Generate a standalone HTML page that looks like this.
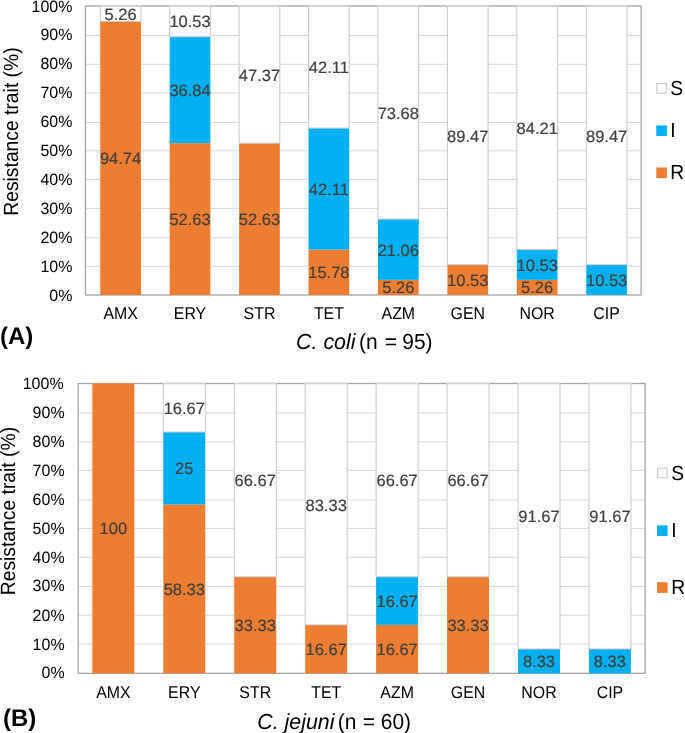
<!DOCTYPE html>
<html><head><meta charset="utf-8"><style>
html,body{margin:0;padding:0;background:#fff;}
body{width:685px;height:733px;overflow:hidden;}
#wrap{will-change:transform;width:685px;height:733px;filter:blur(0.35px);}
svg{display:block;font-family:"Liberation Sans",sans-serif;text-rendering:geometricPrecision;}
</style></head><body>
<div id="wrap"><svg width="685" height="733" viewBox="0 0 685 733">
<rect width="685" height="733" fill="#fff"/>
<line x1="85.50" y1="266.30" x2="641.10" y2="266.30" stroke="#d9d9d9" stroke-width="1"/>
<line x1="85.50" y1="237.80" x2="641.10" y2="237.80" stroke="#d9d9d9" stroke-width="1"/>
<line x1="85.50" y1="208.40" x2="641.10" y2="208.40" stroke="#d9d9d9" stroke-width="1"/>
<line x1="85.50" y1="179.50" x2="641.10" y2="179.50" stroke="#d9d9d9" stroke-width="1"/>
<line x1="85.50" y1="150.85" x2="641.10" y2="150.85" stroke="#d9d9d9" stroke-width="1"/>
<line x1="85.50" y1="122.50" x2="641.10" y2="122.50" stroke="#d9d9d9" stroke-width="1"/>
<line x1="85.50" y1="93.00" x2="641.10" y2="93.00" stroke="#d9d9d9" stroke-width="1"/>
<line x1="85.50" y1="64.30" x2="641.10" y2="64.30" stroke="#d9d9d9" stroke-width="1"/>
<line x1="85.50" y1="35.50" x2="641.10" y2="35.50" stroke="#d9d9d9" stroke-width="1"/>
<rect x="85.50" y="6.00" width="555.60" height="289.00" fill="none" stroke="#a6a6a6" stroke-width="1.3"/>
<rect x="100.25" y="21.36" width="40.70" height="273.64" fill="#ed7d31"/>
<rect x="100.25" y="6.00" width="40.70" height="15.36" fill="#ffffff" stroke="#c8c8c8" stroke-width="1"/>
<line x1="99.75" y1="6.00" x2="141.45" y2="6.00" stroke="#d4d4d4" stroke-width="1.6"/>
<rect x="169.68" y="143.15" width="40.70" height="151.85" fill="#ed7d31"/>
<rect x="169.68" y="36.73" width="40.70" height="106.42" fill="#00b0f0"/>
<rect x="169.68" y="6.00" width="40.70" height="30.73" fill="#ffffff" stroke="#c8c8c8" stroke-width="1"/>
<line x1="169.18" y1="6.00" x2="210.88" y2="6.00" stroke="#d4d4d4" stroke-width="1.6"/>
<rect x="239.11" y="143.15" width="40.70" height="151.85" fill="#ed7d31"/>
<rect x="239.11" y="6.00" width="40.70" height="137.15" fill="#ffffff" stroke="#c8c8c8" stroke-width="1"/>
<line x1="238.61" y1="6.00" x2="280.31" y2="6.00" stroke="#d4d4d4" stroke-width="1.6"/>
<rect x="308.54" y="249.61" width="40.70" height="45.39" fill="#ed7d31"/>
<rect x="308.54" y="128.09" width="40.70" height="121.52" fill="#00b0f0"/>
<rect x="308.54" y="6.00" width="40.70" height="122.09" fill="#ffffff" stroke="#c8c8c8" stroke-width="1"/>
<line x1="308.04" y1="6.00" x2="349.74" y2="6.00" stroke="#d4d4d4" stroke-width="1.6"/>
<rect x="377.97" y="279.85" width="40.70" height="15.15" fill="#ed7d31"/>
<rect x="377.97" y="219.08" width="40.70" height="60.77" fill="#00b0f0"/>
<rect x="377.97" y="6.00" width="40.70" height="213.08" fill="#ffffff" stroke="#c8c8c8" stroke-width="1"/>
<line x1="377.47" y1="6.00" x2="419.17" y2="6.00" stroke="#d4d4d4" stroke-width="1.6"/>
<rect x="447.40" y="264.68" width="40.70" height="30.32" fill="#ed7d31"/>
<rect x="447.40" y="6.00" width="40.70" height="258.68" fill="#ffffff" stroke="#c8c8c8" stroke-width="1"/>
<line x1="446.90" y1="6.00" x2="488.60" y2="6.00" stroke="#d4d4d4" stroke-width="1.6"/>
<rect x="516.83" y="279.85" width="40.70" height="15.15" fill="#ed7d31"/>
<rect x="516.83" y="249.58" width="40.70" height="30.27" fill="#00b0f0"/>
<rect x="516.83" y="6.00" width="40.70" height="243.58" fill="#ffffff" stroke="#c8c8c8" stroke-width="1"/>
<line x1="516.33" y1="6.00" x2="558.03" y2="6.00" stroke="#d4d4d4" stroke-width="1.6"/>
<rect x="586.26" y="264.68" width="40.70" height="30.32" fill="#00b0f0"/>
<rect x="586.26" y="6.00" width="40.70" height="258.68" fill="#ffffff" stroke="#c8c8c8" stroke-width="1"/>
<line x1="585.76" y1="6.00" x2="627.46" y2="6.00" stroke="#d4d4d4" stroke-width="1.6"/>
<text x="120.60" y="164.30" text-anchor="middle" font-size="16.5" fill="#404040" stroke="#404040" stroke-width="0.2">94.74</text>
<text x="120.60" y="19.74" text-anchor="middle" font-size="16.5" fill="#404040" stroke="#404040" stroke-width="0.2">5.26</text>
<text x="190.03" y="225.15" text-anchor="middle" font-size="16.5" fill="#404040" stroke="#404040" stroke-width="0.2">52.63</text>
<text x="190.03" y="95.88" text-anchor="middle" font-size="16.5" fill="#404040" stroke="#404040" stroke-width="0.2">36.84</text>
<text x="190.03" y="27.43" text-anchor="middle" font-size="16.5" fill="#404040" stroke="#404040" stroke-width="0.2">10.53</text>
<text x="259.46" y="225.15" text-anchor="middle" font-size="16.5" fill="#404040" stroke="#404040" stroke-width="0.2">52.63</text>
<text x="259.46" y="80.72" text-anchor="middle" font-size="16.5" fill="#404040" stroke="#404040" stroke-width="0.2">47.37</text>
<text x="328.89" y="278.33" text-anchor="middle" font-size="16.5" fill="#404040" stroke="#404040" stroke-width="0.2">15.78</text>
<text x="328.89" y="194.65" text-anchor="middle" font-size="16.5" fill="#404040" stroke="#404040" stroke-width="0.2">42.11</text>
<text x="328.89" y="73.14" text-anchor="middle" font-size="16.5" fill="#404040" stroke="#404040" stroke-width="0.2">42.11</text>
<text x="398.32" y="293.48" text-anchor="middle" font-size="16.5" fill="#404040" stroke="#404040" stroke-width="0.2">5.26</text>
<text x="398.32" y="255.64" text-anchor="middle" font-size="16.5" fill="#404040" stroke="#404040" stroke-width="0.2">21.06</text>
<text x="398.32" y="118.88" text-anchor="middle" font-size="16.5" fill="#404040" stroke="#404040" stroke-width="0.2">73.68</text>
<text x="467.75" y="285.89" text-anchor="middle" font-size="16.5" fill="#404040" stroke="#404040" stroke-width="0.2">10.53</text>
<text x="467.75" y="141.66" text-anchor="middle" font-size="16.5" fill="#404040" stroke="#404040" stroke-width="0.2">89.47</text>
<text x="537.18" y="293.48" text-anchor="middle" font-size="16.5" fill="#404040" stroke="#404040" stroke-width="0.2">5.26</text>
<text x="537.18" y="270.75" text-anchor="middle" font-size="16.5" fill="#404040" stroke="#404040" stroke-width="0.2">10.53</text>
<text x="537.18" y="134.13" text-anchor="middle" font-size="16.5" fill="#404040" stroke="#404040" stroke-width="0.2">84.21</text>
<text x="606.61" y="285.89" text-anchor="middle" font-size="16.5" fill="#404040" stroke="#404040" stroke-width="0.2">10.53</text>
<text x="606.61" y="141.66" text-anchor="middle" font-size="16.5" fill="#404040" stroke="#404040" stroke-width="0.2">89.47</text>
<text transform="translate(72.40,300.60) scale(0.975,1)" text-anchor="end" font-size="16.4" fill="#000000">0%</text>
<text transform="translate(72.40,272.00) scale(0.975,1)" text-anchor="end" font-size="16.4" fill="#000000">10%</text>
<text transform="translate(72.40,242.90) scale(0.975,1)" text-anchor="end" font-size="16.4" fill="#000000">20%</text>
<text transform="translate(72.40,213.60) scale(0.975,1)" text-anchor="end" font-size="16.4" fill="#000000">30%</text>
<text transform="translate(72.40,185.00) scale(0.975,1)" text-anchor="end" font-size="16.4" fill="#000000">40%</text>
<text transform="translate(72.40,155.85) scale(0.975,1)" text-anchor="end" font-size="16.4" fill="#000000">50%</text>
<text transform="translate(72.40,127.15) scale(0.975,1)" text-anchor="end" font-size="16.4" fill="#000000">60%</text>
<text transform="translate(72.40,98.30) scale(0.975,1)" text-anchor="end" font-size="16.4" fill="#000000">70%</text>
<text transform="translate(72.40,68.70) scale(0.975,1)" text-anchor="end" font-size="16.4" fill="#000000">80%</text>
<text transform="translate(72.40,39.90) scale(0.975,1)" text-anchor="end" font-size="16.4" fill="#000000">90%</text>
<text transform="translate(72.40,11.80) scale(0.975,1)" text-anchor="end" font-size="16.4" fill="#000000">100%</text>
<text transform="translate(120.60,319.10) scale(0.935,1)" text-anchor="middle" font-size="17.0" fill="#000000">AMX</text>
<text transform="translate(190.03,319.10) scale(0.935,1)" text-anchor="middle" font-size="17.0" fill="#000000">ERY</text>
<text transform="translate(259.46,319.10) scale(0.935,1)" text-anchor="middle" font-size="17.0" fill="#000000">STR</text>
<text transform="translate(328.89,319.10) scale(0.935,1)" text-anchor="middle" font-size="17.0" fill="#000000">TET</text>
<text transform="translate(398.32,319.10) scale(0.935,1)" text-anchor="middle" font-size="17.0" fill="#000000">AZM</text>
<text transform="translate(467.75,319.10) scale(0.935,1)" text-anchor="middle" font-size="17.0" fill="#000000">GEN</text>
<text transform="translate(537.18,319.10) scale(0.935,1)" text-anchor="middle" font-size="17.0" fill="#000000">NOR</text>
<text transform="translate(606.61,319.10) scale(0.935,1)" text-anchor="middle" font-size="17.0" fill="#000000">CIP</text>
<text transform="translate(18.10,131.55) rotate(-90) scale(0.937,1)" text-anchor="middle" font-size="20.6" fill="#000000">Resistance trait (%)</text>
<rect x="656.80" y="83.60" width="9.6" height="9.6" fill="#ffffff" stroke="#c8c8c8" stroke-width="1"/>
<text transform="translate(670.15,95.00) scale(0.95,1)" font-size="20.3" fill="#000000">S</text>
<rect x="656.30" y="125.40" width="10.6" height="10.6" fill="#00b0f0"/>
<text transform="translate(670.15,137.30) scale(0.95,1)" font-size="20.3" fill="#000000">I</text>
<rect x="656.30" y="167.50" width="10.6" height="10.6" fill="#ed7d31"/>
<text transform="translate(670.15,179.40) scale(0.95,1)" font-size="20.3" fill="#000000">R</text>
<text x="0.00" y="344.20" font-size="24.0" font-weight="bold" fill="#000000">(A)</text>
<text transform="translate(296.12,349.20) scale(0.98,1)" font-size="21.8" font-style="italic" fill="#000000">C. coli</text>
<text transform="translate(359.04,349.20) scale(0.96,1)" font-size="21.8" fill="#000000">(n</text>
<text transform="translate(384.75,349.20) scale(0.96,1)" font-size="21.8" fill="#000000">=</text>
<text transform="translate(402.26,349.20) scale(0.96,1)" font-size="21.8" fill="#000000">95)</text>
<line x1="78.20" y1="643.90" x2="645.10" y2="643.90" stroke="#d9d9d9" stroke-width="1"/>
<line x1="78.20" y1="615.20" x2="645.10" y2="615.20" stroke="#d9d9d9" stroke-width="1"/>
<line x1="78.20" y1="586.55" x2="645.10" y2="586.55" stroke="#d9d9d9" stroke-width="1"/>
<line x1="78.20" y1="557.30" x2="645.10" y2="557.30" stroke="#d9d9d9" stroke-width="1"/>
<line x1="78.20" y1="528.40" x2="645.10" y2="528.40" stroke="#d9d9d9" stroke-width="1"/>
<line x1="78.20" y1="499.90" x2="645.10" y2="499.90" stroke="#d9d9d9" stroke-width="1"/>
<line x1="78.20" y1="470.40" x2="645.10" y2="470.40" stroke="#d9d9d9" stroke-width="1"/>
<line x1="78.20" y1="441.80" x2="645.10" y2="441.80" stroke="#d9d9d9" stroke-width="1"/>
<line x1="78.20" y1="413.05" x2="645.10" y2="413.05" stroke="#d9d9d9" stroke-width="1"/>
<rect x="78.20" y="383.50" width="566.90" height="289.80" fill="none" stroke="#a6a6a6" stroke-width="1.3"/>
<rect x="92.35" y="383.50" width="42.00" height="289.80" fill="#ed7d31"/>
<rect x="163.29" y="504.46" width="42.00" height="168.84" fill="#ed7d31"/>
<rect x="163.29" y="432.02" width="42.00" height="72.44" fill="#00b0f0"/>
<rect x="163.29" y="383.50" width="42.00" height="48.52" fill="#ffffff" stroke="#c8c8c8" stroke-width="1"/>
<line x1="162.79" y1="383.50" x2="205.79" y2="383.50" stroke="#d4d4d4" stroke-width="1.6"/>
<rect x="234.23" y="576.76" width="42.00" height="96.54" fill="#ed7d31"/>
<rect x="234.23" y="383.50" width="42.00" height="193.26" fill="#ffffff" stroke="#c8c8c8" stroke-width="1"/>
<line x1="233.73" y1="383.50" x2="276.73" y2="383.50" stroke="#d4d4d4" stroke-width="1.6"/>
<rect x="305.17" y="624.87" width="42.00" height="48.43" fill="#ed7d31"/>
<rect x="305.17" y="383.50" width="42.00" height="241.37" fill="#ffffff" stroke="#c8c8c8" stroke-width="1"/>
<line x1="304.67" y1="383.50" x2="347.67" y2="383.50" stroke="#d4d4d4" stroke-width="1.6"/>
<rect x="376.11" y="624.87" width="42.00" height="48.43" fill="#ed7d31"/>
<rect x="376.11" y="576.73" width="42.00" height="48.14" fill="#00b0f0"/>
<rect x="376.11" y="383.50" width="42.00" height="193.23" fill="#ffffff" stroke="#c8c8c8" stroke-width="1"/>
<line x1="375.61" y1="383.50" x2="418.61" y2="383.50" stroke="#d4d4d4" stroke-width="1.6"/>
<rect x="447.05" y="576.76" width="42.00" height="96.54" fill="#ed7d31"/>
<rect x="447.05" y="383.50" width="42.00" height="193.26" fill="#ffffff" stroke="#c8c8c8" stroke-width="1"/>
<line x1="446.55" y1="383.50" x2="489.55" y2="383.50" stroke="#d4d4d4" stroke-width="1.6"/>
<rect x="517.99" y="648.98" width="42.00" height="24.32" fill="#00b0f0"/>
<rect x="517.99" y="383.50" width="42.00" height="265.48" fill="#ffffff" stroke="#c8c8c8" stroke-width="1"/>
<line x1="517.49" y1="383.50" x2="560.49" y2="383.50" stroke="#d4d4d4" stroke-width="1.6"/>
<rect x="588.93" y="648.98" width="42.00" height="24.32" fill="#00b0f0"/>
<rect x="588.93" y="383.50" width="42.00" height="265.48" fill="#ffffff" stroke="#c8c8c8" stroke-width="1"/>
<line x1="588.43" y1="383.50" x2="631.43" y2="383.50" stroke="#d4d4d4" stroke-width="1.6"/>
<text x="113.35" y="534.46" text-anchor="middle" font-size="16.5" fill="#404040" stroke="#404040" stroke-width="0.2">100</text>
<text x="184.29" y="594.92" text-anchor="middle" font-size="16.5" fill="#404040" stroke="#404040" stroke-width="0.2">58.33</text>
<text x="184.29" y="474.09" text-anchor="middle" font-size="16.5" fill="#404040" stroke="#404040" stroke-width="0.2">25</text>
<text x="184.29" y="413.95" text-anchor="middle" font-size="16.5" fill="#404040" stroke="#404040" stroke-width="0.2">16.67</text>
<text x="255.23" y="630.94" text-anchor="middle" font-size="16.5" fill="#404040" stroke="#404040" stroke-width="0.2">33.33</text>
<text x="255.23" y="486.23" text-anchor="middle" font-size="16.5" fill="#404040" stroke="#404040" stroke-width="0.2">66.67</text>
<text x="326.17" y="655.03" text-anchor="middle" font-size="16.5" fill="#404040" stroke="#404040" stroke-width="0.2">16.67</text>
<text x="326.17" y="510.50" text-anchor="middle" font-size="16.5" fill="#404040" stroke="#404040" stroke-width="0.2">83.33</text>
<text x="397.11" y="655.03" text-anchor="middle" font-size="16.5" fill="#404040" stroke="#404040" stroke-width="0.2">16.67</text>
<text x="397.11" y="606.90" text-anchor="middle" font-size="16.5" fill="#404040" stroke="#404040" stroke-width="0.2">16.67</text>
<text x="397.11" y="486.20" text-anchor="middle" font-size="16.5" fill="#404040" stroke="#404040" stroke-width="0.2">66.67</text>
<text x="468.05" y="630.94" text-anchor="middle" font-size="16.5" fill="#404040" stroke="#404040" stroke-width="0.2">33.33</text>
<text x="468.05" y="486.23" text-anchor="middle" font-size="16.5" fill="#404040" stroke="#404040" stroke-width="0.2">66.67</text>
<text x="538.99" y="667.20" text-anchor="middle" font-size="16.5" fill="#404040" stroke="#404040" stroke-width="0.2">8.33</text>
<text x="538.99" y="522.49" text-anchor="middle" font-size="16.5" fill="#404040" stroke="#404040" stroke-width="0.2">91.67</text>
<text x="609.93" y="667.20" text-anchor="middle" font-size="16.5" fill="#404040" stroke="#404040" stroke-width="0.2">8.33</text>
<text x="609.93" y="522.49" text-anchor="middle" font-size="16.5" fill="#404040" stroke="#404040" stroke-width="0.2">91.67</text>
<text transform="translate(64.60,678.20) scale(0.975,1)" text-anchor="end" font-size="16.4" fill="#000000">0%</text>
<text transform="translate(64.60,649.60) scale(0.975,1)" text-anchor="end" font-size="16.4" fill="#000000">10%</text>
<text transform="translate(64.60,621.00) scale(0.975,1)" text-anchor="end" font-size="16.4" fill="#000000">20%</text>
<text transform="translate(64.60,590.70) scale(0.975,1)" text-anchor="end" font-size="16.4" fill="#000000">30%</text>
<text transform="translate(64.60,562.85) scale(0.975,1)" text-anchor="end" font-size="16.4" fill="#000000">40%</text>
<text transform="translate(64.60,534.20) scale(0.975,1)" text-anchor="end" font-size="16.4" fill="#000000">50%</text>
<text transform="translate(64.60,504.80) scale(0.975,1)" text-anchor="end" font-size="16.4" fill="#000000">60%</text>
<text transform="translate(64.60,476.00) scale(0.975,1)" text-anchor="end" font-size="16.4" fill="#000000">70%</text>
<text transform="translate(64.60,446.80) scale(0.975,1)" text-anchor="end" font-size="16.4" fill="#000000">80%</text>
<text transform="translate(64.60,418.00) scale(0.975,1)" text-anchor="end" font-size="16.4" fill="#000000">90%</text>
<text transform="translate(63.60,389.20) scale(0.975,1)" text-anchor="end" font-size="16.4" fill="#000000">100%</text>
<text transform="translate(113.35,697.70) scale(0.935,1)" text-anchor="middle" font-size="17.0" fill="#000000">AMX</text>
<text transform="translate(184.29,697.70) scale(0.935,1)" text-anchor="middle" font-size="17.0" fill="#000000">ERY</text>
<text transform="translate(255.23,697.70) scale(0.935,1)" text-anchor="middle" font-size="17.0" fill="#000000">STR</text>
<text transform="translate(326.17,697.70) scale(0.935,1)" text-anchor="middle" font-size="17.0" fill="#000000">TET</text>
<text transform="translate(397.11,697.70) scale(0.935,1)" text-anchor="middle" font-size="17.0" fill="#000000">AZM</text>
<text transform="translate(468.05,697.70) scale(0.935,1)" text-anchor="middle" font-size="17.0" fill="#000000">GEN</text>
<text transform="translate(538.99,697.70) scale(0.935,1)" text-anchor="middle" font-size="17.0" fill="#000000">NOR</text>
<text transform="translate(609.93,697.70) scale(0.935,1)" text-anchor="middle" font-size="17.0" fill="#000000">CIP</text>
<text transform="translate(15.00,511.10) rotate(-90) scale(0.937,1)" text-anchor="middle" font-size="20.6" fill="#000000">Resistance trait (%)</text>
<rect x="657.50" y="468.15" width="9.6" height="9.6" fill="#ffffff" stroke="#c8c8c8" stroke-width="1"/>
<text transform="translate(671.15,479.55) scale(0.95,1)" font-size="20.3" fill="#000000">S</text>
<rect x="657.00" y="525.45" width="10.6" height="10.6" fill="#00b0f0"/>
<text transform="translate(671.15,537.35) scale(0.95,1)" font-size="20.3" fill="#000000">I</text>
<rect x="657.00" y="582.25" width="10.6" height="10.6" fill="#ed7d31"/>
<text transform="translate(671.15,594.15) scale(0.95,1)" font-size="20.3" fill="#000000">R</text>
<text x="3.00" y="725.80" font-size="24.0" font-weight="bold" fill="#000000">(B)</text>
<text transform="translate(257.22,728.90) scale(0.98,1)" font-size="21.8" font-style="italic" fill="#000000">C. jejuni</text>
<text transform="translate(337.84,728.90) scale(0.96,1)" font-size="21.8" fill="#000000">(n</text>
<text transform="translate(362.65,728.90) scale(0.96,1)" font-size="21.8" fill="#000000">=</text>
<text transform="translate(380.75,728.90) scale(0.96,1)" font-size="21.8" fill="#000000">60)</text>
</svg></div>
</body></html>
